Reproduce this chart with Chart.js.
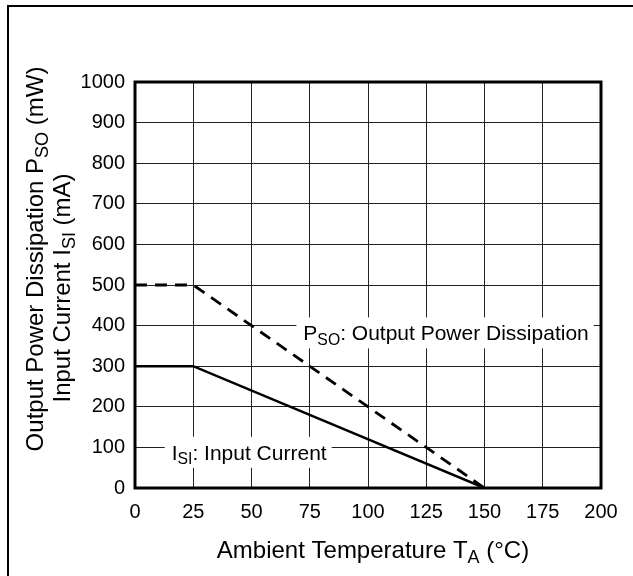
<!DOCTYPE html>
<html>
<head>
<meta charset="utf-8">
<script src="https://cdn.jsdelivr.net/npm/chart.js@4/dist/chart.umd.min.js"></script>
<style>
  html, body { margin: 0; padding: 0; background: #fff; overflow: hidden; }
  canvas { display: block; }
</style>
</head>
<body>
<canvas id="chart" width="633" height="576"></canvas>
<script>
// datos
const temps = [0, 25, 150];           // Ta (°C)
const psoValues = [500, 500, 0];      // Pso (mW)
const isiValues = [300, 300, 0];      // Isi (mA)
const xMin = 0, xMax = 200, xStep = 25;
const yMin = 0, yMax = 1000, yStep = 100;

// textos con subindices: [texto, esSubindice]
const psoLabel = [['P', false], ['SO', true], [': Output Power Dissipation', false]];
const isiLabel = [['I', false], ['SI', true], [': Input Current', false]];
const xTitle = [['Ambient Temperature T', false], ['A', true], [' (°C)', false]];
const yTitle1 = [['Output Power Dissipation P', false], ['SO', true], [' (mW)', false]];
const yTitle2 = [['Input Current I', false], ['SI', true], [' (mA)', false]];

// donde van las etiquetas dentro del grafico (en unidades de datos)
const labelSpots = [
    { parts: psoLabel, x: 133.5, y: 382 },
    { parts: isiLabel, x: 49, y: 88 },
];

const FONT = '"Liberation Sans", Arial, sans-serif';

const toPoints = (xs, ys) => xs.map((x, i) => ({ x: x, y: ys[i] }));

const richWidth = (ctx, parts, size) => {
    let w = 0;
    parts.forEach(([t, sub]) => {
        ctx.font = `${sub ? size * 0.75 : size}px ${FONT}`;
        w += ctx.measureText(t).width;
    });
    return w;
};

const drawRich = (ctx, parts, x, y, size) => {
    let cx = x;
    ctx.textAlign = 'left';
    ctx.textBaseline = 'alphabetic';
    parts.forEach(([t, sub]) => {
        ctx.font = `${sub ? size * 0.75 : size}px ${FONT}`;
        ctx.fillText(t, cx, sub ? y + size * 0.22 : y);
        cx += ctx.measureText(t).width;
    });
};

const decorPlugin = {
    id: 'decor',
    beforeDatasetsDraw(chart) {
        // etiquetas con fondo blanco que tapan la rejilla
        const ctx = chart.ctx;
        const size = 21;
        ctx.save();
        labelSpots.forEach(s => {
            const px = chart.scales.x.getPixelForValue(s.x);
            const py = chart.scales.y.getPixelForValue(s.y);
            const w = richWidth(ctx, s.parts, size);
            ctx.fillStyle = '#fff';
            ctx.fillRect(px - w / 2 - 7, py - 15.5, w + 12, 31);
            ctx.fillStyle = '#000';
            drawRich(ctx, s.parts, px - w / 2, py + size * 0.36, size);
        });
        ctx.restore();
    },
    afterDatasetsDraw(chart) {
        const ctx = chart.ctx;
        const a = chart.chartArea;
        ctx.save();
        ctx.strokeStyle = '#000';
        ctx.lineWidth = 3;
        ctx.strokeRect(a.left, a.top, a.right - a.left, a.bottom - a.top);
        ctx.restore();
    },
    afterDraw(chart) {
        const ctx = chart.ctx;
        ctx.save();
        ctx.fillStyle = '#000';
        // titulo eje x
        const tSize = 24;
        const wx = richWidth(ctx, xTitle, tSize);
        drawRich(ctx, xTitle, 373 - wx / 2, 558, tSize);
        // titulo eje y (dos lineas, rotado)
        ctx.rotate(-Math.PI / 2);
        const w1 = richWidth(ctx, yTitle1, tSize);
        const w2 = richWidth(ctx, yTitle2, tSize);
        drawRich(ctx, yTitle1, -(259 + w1 / 2), 43, tSize);
        drawRich(ctx, yTitle2, -(288 + w2 / 2), 70, tSize);
        ctx.restore();
        // marco exterior (solo arriba e izquierda)
        ctx.save();
        ctx.fillStyle = '#000';
        ctx.fillRect(7, 5, chart.width - 7, 2);
        ctx.fillRect(7, 5, 2, chart.height - 5);
        ctx.restore();
    }
};

const ctx = document.getElementById('chart').getContext('2d');

new Chart(ctx, {
    type: 'line',
    data: {
        datasets: [
            {
                label: 'PSO',
                data: toPoints(temps, psoValues),
                borderColor: '#000',
                borderWidth: 2.8,
                borderDash: [12, 8],
                pointRadius: 0,
                fill: false,
                tension: 0,
            },
            {
                label: 'ISI',
                data: toPoints(temps, isiValues),
                borderColor: '#000',
                borderWidth: 2.5,
                pointRadius: 0,
                fill: false,
                tension: 0,
            }
        ]
    },
    options: {
        responsive: false,
        animation: false,
        layout: { padding: { left: 0, top: 82, right: 32, bottom: 0 } },
        plugins: {
            legend: { display: false },
            tooltip: { enabled: false },
            title: { display: false },
        },
        scales: {
            x: {
                type: 'linear',
                min: xMin,
                max: xMax,
                afterFit: (scale) => { scale.height = 88; },
                grid: { color: '#222', lineWidth: 1, drawTicks: false },
                border: { display: false },
                ticks: {
                    stepSize: xStep,
                    padding: 12,
                    color: '#000',
                    maxRotation: 0,
                    font: { family: FONT, size: 20 },
                    callback: (v) => String(v),
                },
            },
            y: {
                min: yMin,
                max: yMax,
                afterFit: (scale) => { scale.width = 135; },
                grid: { color: '#222', lineWidth: 1, drawTicks: false },
                border: { display: false },
                ticks: {
                    stepSize: yStep,
                    padding: 10,
                    color: '#000',
                    font: { family: FONT, size: 20 },
                    callback: (v) => String(v),
                },
            },
        },
    },
    plugins: [decorPlugin],
});
</script>
</body>
</html>
